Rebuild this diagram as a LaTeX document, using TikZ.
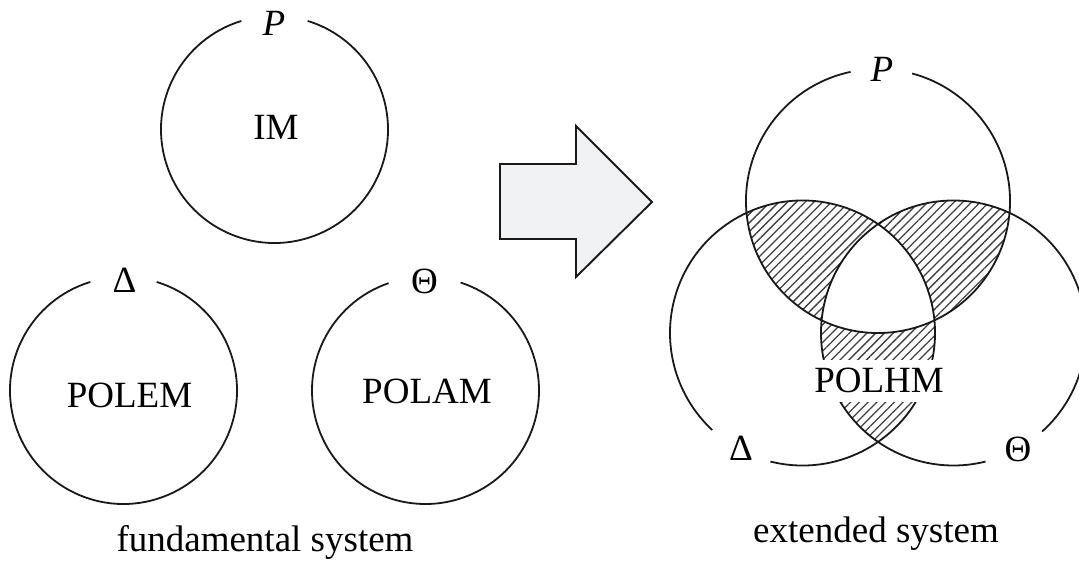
\documentclass[tikz,border=0pt]{standalone}
\usepackage{fontspec}
\setmainfont{Liberation Serif}
\usetikzlibrary{patterns.meta}
\definecolor{arrowfill}{HTML}{F1F2F4}
\tikzset{
  ring/.style={line width=1.8pt, black!90},
  lbl/.style={anchor=base, inner sep=0pt, font=\fontsize{37}{41}\selectfont},
  hatch/.style={pattern={Lines[angle=45, distance=6.2pt, line width=1.3pt]}, pattern color=black!75},
  bigarrow/.style={line width=1.9pt, black!90, fill=arrowfill, line join=miter}
}
\begin{document}
\begin{tikzpicture}[x=1pt,y=1pt]
\useasboundingbox (0,0) rectangle (1079,560);
\clip (0,0) rectangle (1079,560);
% ---- fundamental system ----
\draw[ring] (274.5,430.5) ++(107:113.5) arc[start angle=107, end angle=433, radius=113.5];
\draw[ring] (123.5,169.5) ++(107:113.5) arc[start angle=107, end angle=433, radius=113.5];
\draw[ring] (425.5,169.5) ++(109:113.5) arc[start angle=109, end angle=432, radius=113.5];
\node[lbl] (pl) at (274,524.3) {\textit{P}};
\node[lbl] (im) at (276,420.7) {IM};
\node[lbl] (dl) at (124.5,267) {Δ};
\node[lbl] (polem) at (129.5,152) {POLEM};
\node[lbl] (tl) at (424.5,266) {Θ};
\node[lbl] (polam) at (427,156) {POLAM};
\node[lbl] (fund) at (265,9) {fundamental system};
% ---- arrow ----
\draw[bigarrow] (500,396) -- (576,396) -- (576,434) -- (652,358) -- (576,283) -- (576,321) -- (500,321) -- cycle;
% ---- extended system ----
\def\cP{(878,359) circle[radius=132]}
\def\cD{(802.5,227) circle[radius=132.5]}
\def\cT{(953.5,227) circle[radius=132.5]}
\begin{scope}
  \clip \cP;
  \fill[hatch] \cD;
  \fill[hatch] \cT;
\end{scope}
\begin{scope}
  \clip \cD;
  \fill[hatch] \cT;
\end{scope}
\begin{scope}
  \clip \cP;
  \clip \cD;
  \fill[white] \cT;
\end{scope}
\draw[ring] (878,359) ++(102:132) arc[start angle=102, end angle=435, radius=132];
\draw[ring] (802.5,227) ++(256:132.5) arc[start angle=256, end angle=587, radius=132.5];
\draw[ring] (953.5,227) ++(312:132.5) arc[start angle=312, end angle=644, radius=132.5];
\node[lbl] (pr) at (882,478) {\textit{P}};
\node[lbl] (dr) at (741,100) {Δ};
\node[lbl] (tr) at (1018,99) {Θ};
\node[lbl, fill=white, inner xsep=4pt, inner ysep=9pt] (polhm) at (879,167) {POLHM};
\node[lbl] (ext) at (876,18) {extended system};
\end{tikzpicture}
\end{document}
